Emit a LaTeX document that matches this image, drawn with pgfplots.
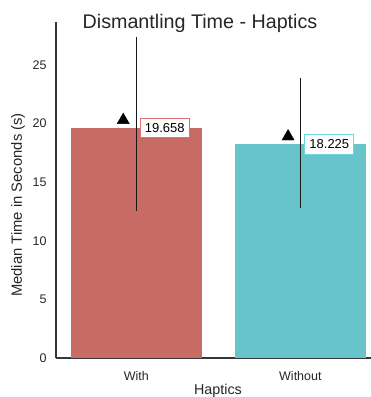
\documentclass[border=0pt]{standalone}
\usepackage{pgfplots}
\pgfplotsset{compat=1.18}
\usepackage{fontspec}
\setmainfont{Liberation Sans}
\definecolor{barred}{RGB}{201,107,101}
\definecolor{barteal}{RGB}{103,196,203}
\definecolor{edgered}{RGB}{226,112,108}
\definecolor{edgeteal}{RGB}{110,214,222}
\definecolor{spine}{RGB}{55,55,55}
\begin{document}
\begin{tikzpicture}[x=1pt,y=1pt]
\useasboundingbox (0,0) rectangle (371,397);
\begin{axis}[
  at={(56pt,39pt)}, anchor=south west,
  scale only axis, width=326.4pt, height=336pt,
  xmin=-0.49, xmax=1.5, ymin=0, ymax=28.67,
  axis x line*=bottom, axis y line*=left,
  axis line style={-, spine, line width=1.4pt},
  xtick={0,1}, xticklabels={With,Without},
  ytick={0,5,10,15,20,25},
  major tick length=0pt,
  /pgf/number format/assume math mode=true,
  tick label style={font=\fontsize{12.5}{14}\selectfont, text=black!85},
  yticklabel style={xshift=-6pt},
  xticklabel style={yshift=-10pt},
  clip=false,
]
\addplot[ybar, bar width=0.8, bar shift=0pt, fill=barred, draw=none] coordinates {(0,19.658)};
\addplot[ybar, bar width=0.8, bar shift=0pt, fill=barteal, draw=none] coordinates {(1,18.225)};
\addplot[black!90, line width=1.5pt] coordinates {(0,12.55) (0,27.4)};
\addplot[black!90, line width=1.5pt] coordinates {(1,12.8) (1,23.9)};
\addplot[only marks, mark=triangle*, mark size=7pt, black] coordinates {(-0.08,20.3) (0.925,18.9)};
\addplot[only marks, mark=none, nodes near coords, point meta=explicit symbolic,
  every node near coord/.style={anchor=west, fill=white, draw=edgered, line width=0.9pt,
  inner xsep=4.5pt, inner ysep=5pt, font=\fontsize{13}{15}\selectfont, text=black}]
  coordinates {(0.022,19.658) [19.658]};
\addplot[only marks, mark=none, nodes near coords, point meta=explicit symbolic,
  every node near coord/.style={anchor=west, fill=white, draw=edgeteal, line width=0.9pt,
  inner xsep=4.5pt, inner ysep=5pt, font=\fontsize{13}{15}\selectfont, text=black}]
  coordinates {(1.025,18.225) [18.225]};
\end{axis}
\node[anchor=base, font=\fontsize{19.7}{22}\selectfont, text=black!85] at (200,368) {Dismantling Time - Haptics};
\node[rotate=90, anchor=center, font=\fontsize{14.8}{17}\selectfont, text=black!85] at (18,192) {Median Time in Seconds (s)};
\node[anchor=base, font=\fontsize{14.3}{16}\selectfont, text=black!85] at (218,2) {Haptics};
\end{tikzpicture}
\end{document}
